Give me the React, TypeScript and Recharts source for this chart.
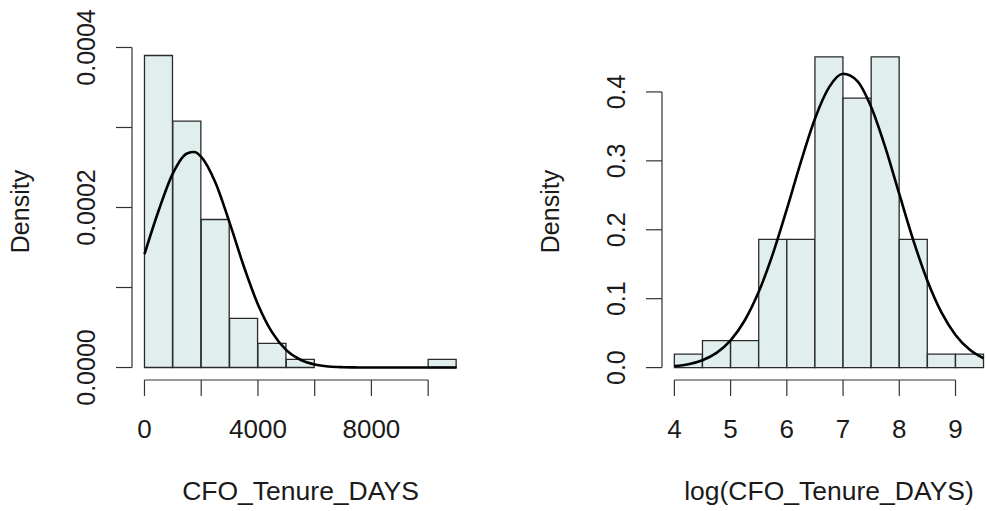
import React from "react";
import { ComposedChart, Bar, Line, XAxis, YAxis, ReferenceLine } from "recharts";

const FONT = "'Liberation Sans', Arial, Helvetica, sans-serif";
const INK = "#1a1a1a";
const FILL = "#e0eeee";

// left panel: CFO_Tenure_DAYS, bins of 1000 days
const rawBinMids = [500, 1500, 2500, 3500, 4500, 5500, 6500, 7500, 8500, 9500, 10500];
const rawDensity = [0.00039, 0.000308, 0.000185, 0.0000615, 0.0000302, 0.0000103, 0, 0, 0, 0, 0.0000103];
const rawCurveX = [0, 500, 1000, 1500, 1750, 2000, 2500, 3000, 3500, 4000, 4500, 5000, 5500, 6000, 6500, 7000, 7500, 8000, 8500, 9000, 9500, 10000, 10500, 11000];
const rawCurveY = [0.0001416, 0.0001962, 0.0002426, 0.0002676, 0.0002693, 0.0002634, 0.0002312, 0.0001811, 0.0001266, 0.0000789, 0.0000439, 0.0000218, 0.0000097, 0.0000038, 0.0000013, 0.0000004, 0.0000001, 0, 0, 0, 0, 0, 0, 0];
const rawXTicks = [0, 2000, 4000, 6000, 8000, 10000];
const rawXLabels = [0, 4000, 8000];
const rawYTicks = [0, 0.0001, 0.0002, 0.0003, 0.0004];
const rawYLabels = [0, 0.0002, 0.0004];

// right panel: log(CFO_Tenure_DAYS), bins of 0.5
const logBinMids = [4.25, 4.75, 5.25, 5.75, 6.25, 6.75, 7.25, 7.75, 8.25, 8.75, 9.25];
const logDensity = [0.0195, 0.039, 0.039, 0.186, 0.186, 0.451, 0.391, 0.451, 0.186, 0.0195, 0.0195];
const logCurveX = [4, 4.25, 4.5, 4.75, 5, 5.25, 5.5, 5.75, 6, 6.25, 6.5, 6.75, 7, 7.25, 7.5, 7.75, 8, 8.25, 8.5, 8.75, 9, 9.25, 9.5];
const logCurveY = [0.0022, 0.005, 0.0107, 0.0213, 0.0395, 0.0683, 0.1099, 0.1647, 0.2299, 0.2986, 0.3612, 0.4066, 0.4263, 0.4161, 0.3781, 0.3198, 0.2519, 0.1847, 0.1261, 0.0801, 0.0474, 0.0261, 0.0134];
const logXTicks = [4, 5, 6, 7, 8, 9];
const logYTicks = [0, 0.1, 0.2, 0.3, 0.4];

type PanelProps = {
  mids: number[];
  density: number[];
  curveX: number[];
  curveY: number[];
  xDomain: [number, number];
  yDomain: [number, number];
  xTicks: number[];
  xLabels: number[];
  yTicks: number[];
  yLabels: number[];
  yDigits: number;
  xTitle: string;
  width: number;
  yAxisWidth: number;
  marginRight: number;
};

function Panel(p: PanelProps) {
  const bins = p.mids.map((mid, i) => ({ mid, density: p.density[i] }));
  const curve = p.curveX.map((x, i) => ({ x, d: p.curveY[i] }));
  const xFirst = p.xTicks[0];
  const xLast = p.xTicks[p.xTicks.length - 1];
  const yFirst = p.yTicks[0];
  const yLast = p.yTicks[p.yTicks.length - 1];

  const xTick = (t: any) =>
    p.xLabels.includes(t.payload.value) ? (
      <text x={t.x} y={t.y} dy="0.71em" textAnchor="middle" fontSize={26} fill={INK} fontFamily={FONT}>
        {t.payload.value}
      </text>
    ) : (
      <g />
    );

  const yTick = (t: any) =>
    p.yLabels.includes(t.payload.value) ? (
      <text
        x={t.x}
        y={t.y}
        transform={`rotate(-90 ${t.x} ${t.y})`}
        textAnchor="middle"
        fontSize={25}
        fill={INK}
        fontFamily={FONT}
      >
        {t.payload.value.toFixed(p.yDigits)}
      </text>
    ) : (
      <g />
    );

  const densityLabel = () => {
    const x = p.yAxisWidth - 103;
    const y = 43 + 337 / 2;
    return (
      <text x={x} y={y} transform={`rotate(-90 ${x} ${y})`} textAnchor="middle" fontSize={25} fill={INK} fontFamily={FONT}>
        Density
      </text>
    );
  };

  return (
    <ComposedChart
      width={p.width}
      height={511}
      data={bins}
      margin={{ top: 43, right: p.marginRight, bottom: 0, left: 0 }}
      barCategoryGap={0}
      barGap={0}
    >
      <XAxis
        xAxisId="bins"
        dataKey="mid"
        type="number"
        domain={p.xDomain}
        allowDataOverflow
        ticks={p.xTicks}
        interval={0}
        axisLine={false}
        tickLine={{ stroke: "#333", strokeWidth: 1.2 }}
        tickSize={16}
        tickMargin={24}
        height={131}
        tick={xTick}
        label={{ value: p.xTitle, position: "insideBottom", offset: 11, fontSize: 26.5, fill: INK, fontFamily: FONT }}
      />
      <XAxis xAxisId="curve" dataKey="x" type="number" domain={p.xDomain} allowDataOverflow hide />
      <YAxis
        type="number"
        domain={p.yDomain}
        allowDataOverflow
        ticks={p.yTicks}
        interval={0}
        width={p.yAxisWidth}
        axisLine={false}
        tickLine={{ stroke: "#333", strokeWidth: 1.2 }}
        tickSize={16}
        tickMargin={21}
        tick={yTick}
        label={{ content: densityLabel }}
      />
      <Bar
        xAxisId="bins"
        dataKey="density"
        fill={FILL}
        stroke="#2b2b2b"
        strokeWidth={1.3}
        isAnimationActive={false}
      />
      <Line
        xAxisId="curve"
        data={curve}
        dataKey="d"
        type="monotone"
        stroke="#000"
        strokeWidth={2.6}
        dot={false}
        activeDot={false}
        isAnimationActive={false}
      />
      <ReferenceLine
        xAxisId="bins"
        segment={[{ x: xFirst, y: p.yDomain[0] }, { x: xLast, y: p.yDomain[0] }]}
        stroke="#333"
        strokeWidth={1.2}
        ifOverflow="visible"
      />
      <ReferenceLine
        xAxisId="bins"
        segment={[{ x: p.xDomain[0], y: yFirst }, { x: p.xDomain[0], y: yLast }]}
        stroke="#333"
        strokeWidth={1.2}
        ifOverflow="visible"
      />
    </ComposedChart>
  );
}

export default function App() {
  return (
    <div
      style={{
        position: "fixed",
        left: 0,
        top: 0,
        width: 987,
        height: 511,
        overflow: "hidden",
        background: "#fff",
        fontFamily: FONT,
      }}
    >
      <div style={{ position: "absolute", left: 0, top: 0 }}>
        <Panel
          mids={rawBinMids}
          density={rawDensity}
          curveX={rawCurveX}
          curveY={rawCurveY}
          xDomain={[-440, 11440]}
          yDomain={[-0.0000156, 0.0004056]}
          xTicks={rawXTicks}
          xLabels={rawXLabels}
          yTicks={rawYTicks}
          yLabels={rawYLabels}
          yDigits={4}
          xTitle="CFO_Tenure_DAYS"
          width={493}
          yAxisWidth={132}
          marginRight={24}
        />
      </div>
      <div style={{ position: "absolute", left: 493, top: 0 }}>
        <Panel
          mids={logBinMids}
          density={logDensity}
          curveX={logCurveX}
          curveY={logCurveY}
          xDomain={[3.78, 9.72]}
          yDomain={[-0.018, 0.471]}
          xTicks={logXTicks}
          xLabels={logXTicks}
          yTicks={logYTicks}
          yLabels={logYTicks}
          yDigits={1}
          xTitle="log(CFO_Tenure_DAYS)"
          width={520}
          yAxisWidth={169}
          marginRight={17}
        />
      </div>
    </div>
  );
}
